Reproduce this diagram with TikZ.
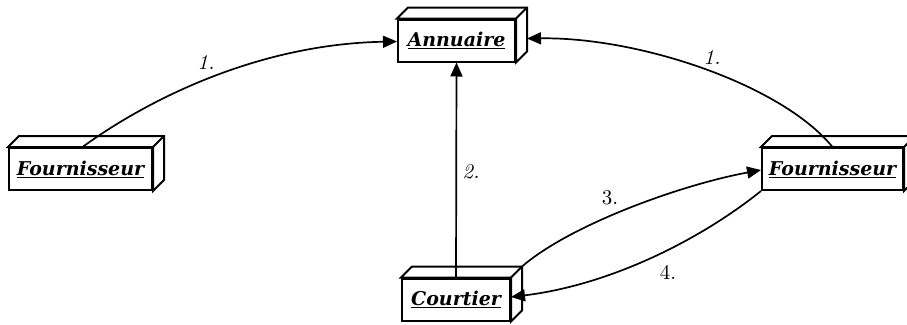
\documentclass[tikz,border=0pt]{standalone}
\usepackage{fontspec}
\setmainfont{DejaVu Serif}
\newfontfamily\lmfont[ItalicFont=lmroman10-italic.otf]{lmroman10-regular.otf}
\usetikzlibrary{arrows.meta,calc}
\begin{document}
\begin{tikzpicture}[x=1pt,y=-1pt,
  obj/.style={draw, line width=2pt, fill=white, minimum height=42pt, inner sep=0pt,
    font=\fontsize{19}{21}\selectfont\bfseries\itshape},
  conn/.style={line width=1.7pt, -{Triangle[length=14pt,width=12pt]}},
  lbl/.style={font=\lmfont\fontsize{21}{23}\selectfont}]
\useasboundingbox (0,0) rectangle (907,324);
\newcommand{\cube}[1]{%
  \draw[line width=2pt, fill=white, line join=miter] (#1.north west) -- ++(11,-11) -| ($(#1.south east)+(11,-11)$) -- (#1.south east) -- (#1.north east) -- cycle;
  \draw[line width=2pt] (#1.north east) -- ++(11,-11);}
\node[obj, minimum width=117pt] (ann) at (456.5,40.5) {\underline{Annuaire}};
\node[obj, minimum width=143pt] (f1) at (80.5,169) {\underline{Fournisseur}};
\node[obj, minimum width=141pt] (f2) at (832.5,169) {\underline{Fournisseur}};
\node[obj, minimum width=108pt] (co) at (456,299.5) {\underline{Courtier}};
\cube{ann}\cube{f1}\cube{f2}\cube{co}
\node[obj, minimum width=117pt] at (ann) {\underline{Annuaire}};
\node[obj, minimum width=143pt] at (f1) {\underline{Fournisseur}};
\node[obj, minimum width=141pt] at (f2) {\underline{Fournisseur}};
\node[obj, minimum width=108pt] at (co) {\underline{Courtier}};
% back corner of Courtier
\coordinate (coback) at ($(co.north east)+(11,-11)$);
% arrows
\draw[conn] ($(f1.north)+(2,0)$) .. controls (150,98) and (260,44) .. ($(ann.west)+(0,1)$);
\draw[conn] (f2.north) .. controls (782,85) and (640,37) .. ($(ann.east)+(11,-2)$);
\draw[conn] (co.north) -- (ann.south);
\draw[conn] (coback) .. controls (570,225) and (680,185) .. ($(f2.west)+(0,1)$);
\draw[conn] (f2.south west) .. controls (700,240) and (610,285) .. ($(co.east)+(0,-2.5)$);
% labels
\node[lbl] (l1) at (206,63) {\itshape 1.};
\node[lbl] (l1b) at (712,58) {\itshape 1.};
\node[lbl] (l2) at (471,172) {\itshape 2.};
\node[lbl] (l3) at (610,198) {3.};
\node[lbl] (l4) at (668,272) {4.};
\end{tikzpicture}
\end{document}
